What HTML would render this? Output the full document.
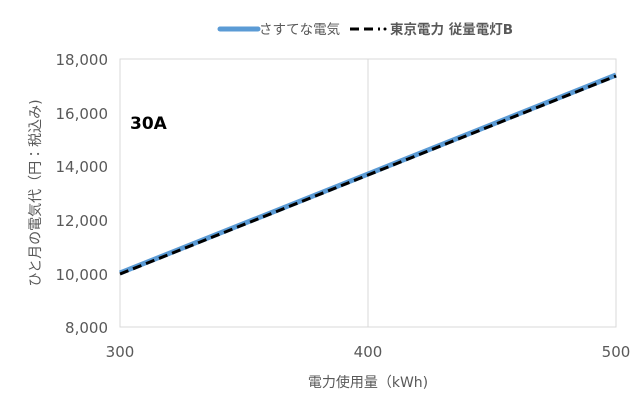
<!DOCTYPE html>
<html><head><meta charset="utf-8"><style>
body{margin:0;background:#fff;}
svg text{font-family:"DejaVu Sans","Noto Sans CJK JP",sans-serif;}
</style></head><body>
<svg width="640" height="400" viewBox="0 0 640 400" xmlns="http://www.w3.org/2000/svg">
<rect width="640" height="400" fill="#fff"/>
<rect x="120" y="59" width="496" height="268" fill="none" stroke="#d9d9d9" stroke-width="1"/>
<line x1="368" y1="59" x2="368" y2="327" stroke="#d9d9d9"/>
<g fill="#595959" font-size="15" text-anchor="end">
<text x="108" y="65">18,000</text>
<text x="108" y="119">16,000</text>
<text x="108" y="172">14,000</text>
<text x="108" y="226">12,000</text>
<text x="108" y="280">10,000</text>
<text x="108" y="333">8,000</text>
</g>
<g fill="#595959" font-size="15" text-anchor="middle">
<text x="120" y="357">300</text>
<text x="368" y="357">400</text>
<text x="616" y="357">500</text>
<text x="368" y="387" font-size="14">電力使用量（kWh)</text>
</g>
<text transform="translate(40,193) rotate(-90)" fill="#595959" font-size="14" text-anchor="middle">ひと月の電気代（円：税込み)</text>
<text x="130" y="129" font-size="17" font-weight="bold" fill="#000">30A</text>
<line x1="120" y1="273" x2="616" y2="75" stroke="#5b9bd5" stroke-width="5"/>
<line x1="120" y1="274" x2="616" y2="76" stroke="#000" stroke-width="3" stroke-dasharray="9,5"/>
<line x1="220" y1="29" x2="258" y2="29" stroke="#5b9bd5" stroke-width="5" stroke-linecap="round"/>
<text x="259" y="34" font-size="13.5" fill="#595959">さすてな電気</text>
<line x1="350" y1="29" x2="380" y2="29" stroke="#000" stroke-width="3" stroke-dasharray="9,5"/>
<circle cx="385" cy="29" r="1.5" fill="#000"/>
<text x="390" y="34" font-size="13.5" font-weight="bold" fill="#595959">東京電力 従量電灯B</text>
</svg>
</body></html>
